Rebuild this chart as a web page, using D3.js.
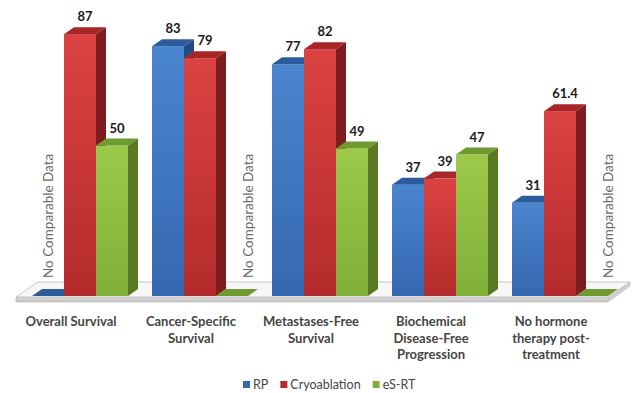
<!DOCTYPE html>
<html>
<head>
<meta charset="utf-8">
<script src="https://cdn.jsdelivr.net/npm/d3@7"></script>
<style>
  body { margin: 0; background: #fff; }
  svg text { font-family: Lato, "Liberation Sans", sans-serif; }
</style>
</head>
<body>
<div id="chart"></div>
<script>
// data
let categories = ["Overall Survival", "Cancer-Specific Survival", "Metastases-Free Survival",
                  "Biochemical Disease-Free Progression", "No hormone therapy post-treatment"]
let catLines = [["Overall Survival"], ["Cancer-Specific", "Survival"], ["Metastases-Free", "Survival"],
                ["Biochemical", "Disease-Free", "Progression"], ["No hormone", "therapy post-", "treatment"]]
let series = ["RP", "Cryoablation", "eS-RT"]
let rpValues = [null, 83, 77, 37, 31]
let cryoValues = [87, 79, 82, 39, 61.4]
let esrtValues = [50, null, 49, 47, null]
let allValues = [rpValues, cryoValues, esrtValues]
// "No Comparable Data" notes: [category index, series index]
let noData = [[0, 0], [1, 2], [4, 2]]

let width = 640, height = 393
let dx = 10, dy = 7   // bar depth

let colors = {
  RP: { front: ["#4a85cf", "#3568b0"], top: "#2d5c9c", side: "#214b85" },
  Cryoablation: { front: ["#dc4242", "#b42b2b"], top: "#a82626", side: "#7e1d1d" },
  "eS-RT": { front: ["#9cc94a", "#80b038"], top: "#6f9a30", side: "#587a27" }
}

let svg = d3.select("#chart")
    .append("svg")
    .attr("width", width)
    .attr("height", height)

let defs = svg.append("defs")
series.forEach((s, i) => {
    let g = defs.append("linearGradient")
        .attr("id", "grad" + i)
        .attr("x1", 0).attr("y1", 0).attr("x2", 0).attr("y2", 1)
    g.append("stop").attr("offset", "0%").attr("stop-color", colors[s].front[0])
    g.append("stop").attr("offset", "100%").attr("stop-color", colors[s].front[1])
})
let fg = defs.append("linearGradient").attr("id", "floorEdge")
    .attr("x1", 0).attr("y1", 0).attr("x2", 0).attr("y2", 1)
fg.append("stop").attr("offset", "0%").attr("stop-color", "#e2e2e2")
fg.append("stop").attr("offset", "100%").attr("stop-color", "#bdbdbd")

let x = d3.scaleBand()
    .domain(categories)
    .range([20, 620])
    .paddingInner(0.2)
    .paddingOuter(0.1)

let xs = d3.scaleBand()
    .domain(series)
    .range([0, x.bandwidth()])

let y = d3.scaleLinear()
    .domain([0, 100])
    .range([296, -5])

// floor
let y0 = y(0)
let fl = x(categories[0]) - 16
let fr = x(categories[categories.length - 1]) + x.bandwidth()
let fdx = 22, fdy = 15
let floor = svg.append("g").attr("class", "floor")
floor.append("path")
    .attr("d", `M${fl},${y0 + 1}L${fr},${y0 + 1}L${fr},${y0 + 6}L${fl},${y0 + 6}Z`)
    .style("fill", "url(#floorEdge)")
    .style("stroke", "#c4c4c4")
    .style("stroke-width", 0.8)
floor.append("path")
    .attr("d", `M${fr},${y0 + 1}L${fr + fdx},${y0 + 1 - fdy}L${fr + fdx},${y0 + 5 - fdy}L${fr},${y0 + 6}Z`)
    .style("fill", "#cfcfcf")
    .style("stroke", "#c4c4c4")
    .style("stroke-width", 0.8)
floor.append("path")
    .attr("d", `M${fl},${y0 + 1}L${fl + fdx},${y0 + 1 - fdy}L${fr + fdx},${y0 + 1 - fdy}L${fr},${y0 + 1}Z`)
    .style("fill", "#f7f7f7")
    .style("stroke", "#bcbcbc")
    .style("stroke-width", 0.8)

// bars
let bars = []
categories.forEach((c, ci) => {
    series.forEach((s, si) => {
        let v = allValues[si][ci]
        bars.push({ cat: c, ser: s, si: si, value: v == null ? 0 : v, missing: v == null })
    })
})

let bw = xs.bandwidth()
let group = svg.append("g")
    .selectAll(".bar")
    .data(bars)
    .enter()
    .append("g")
    .attr("class", "bar")

group.each(function (d) {
    let g = d3.select(this)
    let x0 = x(d.cat) + xs(d.ser)
    let x1 = x0 + bw
    let yt = y(d.value)
    let c = colors[d.ser]
    if (d.value > 0) {
        g.append("rect")
            .attr("x", x0).attr("y", yt)
            .attr("width", bw).attr("height", y0 - yt)
            .style("fill", "url(#grad" + d.si + ")")
        g.append("path")
            .attr("d", `M${x1},${yt}L${x1 + dx},${yt - dy}L${x1 + dx},${y0 - dy}L${x1},${y0}Z`)
            .style("fill", c.side)
    }
    g.append("path")
        .attr("d", `M${x0},${yt}L${x0 + dx},${yt - dy}L${x1 + dx},${yt - dy}L${x1},${yt}Z`)
        .style("fill", c.top)
})

// value labels
svg.append("g")
    .selectAll("text")
    .data(bars.filter(d => !d.missing))
    .enter()
    .append("text")
    .attr("x", d => x(d.cat) + xs(d.ser) + bw / 2 + dx / 2)
    .attr("y", d => y(d.value) - dy - 6)
    .attr("text-anchor", "middle")
    .style("font-size", "13px")
    .style("font-weight", "bold")
    .style("fill", "#1a1a1a")
    .text(d => d.value)

// no comparable data notes
svg.append("g")
    .selectAll("text")
    .data(noData)
    .enter()
    .append("text")
    .attr("transform", d => {
        let cx = x(categories[d[0]]) + xs(series[d[1]]) + bw / 2 + (d[1] == 0 ? 0 : 16)
        return `translate(${cx + 5},${y0 - 18}) rotate(-90)`
    })
    .style("font-size", "13.5px")
    .style("fill", "#6a6a6a")
    .text("No Comparable Data")

// category labels
let cat = svg.append("g")
    .selectAll("text")
    .data(categories)
    .enter()
    .append("text")
    .attr("x", d => x(d) + x.bandwidth() / 2 - 9)
    .attr("y", 326)
    .attr("text-anchor", "middle")
    .style("font-size", "13px")
    .style("font-weight", "bold")
    .style("fill", "#454545")

cat.selectAll("tspan")
    .data((d, i) => catLines[i])
    .enter()
    .append("tspan")
    .attr("x", function () { return d3.select(this.parentNode).attr("x") })
    .attr("dy", (d, i) => i == 0 ? 0 : 16.5)
    .text(d => d)

// legend
let legend = svg.append("g").attr("class", "legend")
let lx = 243
series.forEach((s, i) => {
    let item = legend.append("g").attr("transform", `translate(${lx},381)`)
    item.append("rect")
        .attr("width", 7).attr("height", 7)
        .style("fill", colors[s].front[1])
    let t = item.append("text")
        .attr("x", 10).attr("y", 7.5)
        .style("font-size", "12.5px")
        .style("fill", "#454545")
        .text(s)
    lx += 10 + t.node().getComputedTextLength() + 12
})
</script>
</body>
</html>
